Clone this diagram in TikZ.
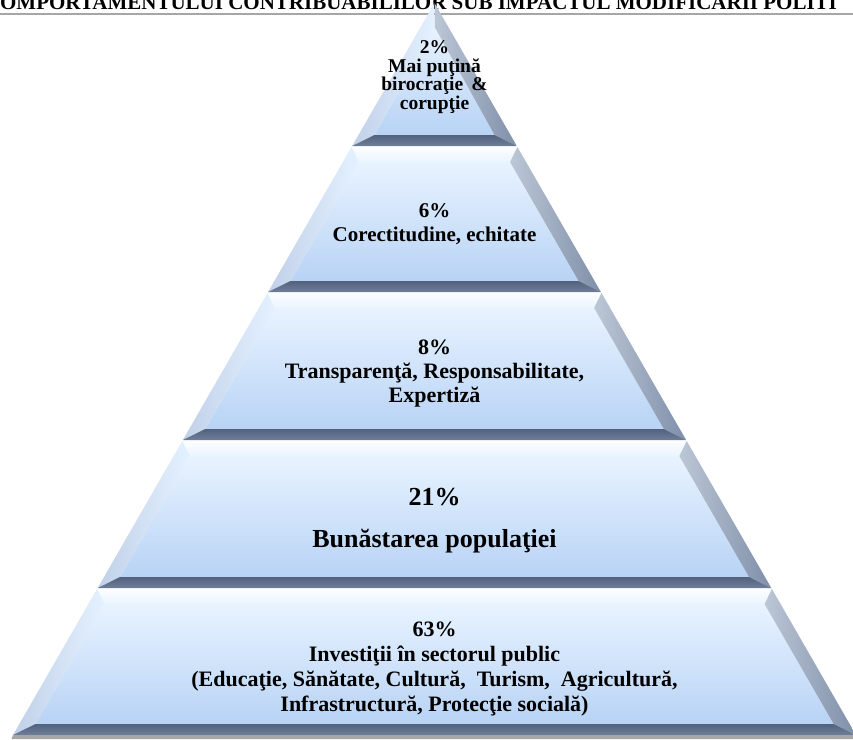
\documentclass[tikz,border=0pt]{standalone}
\usepackage{fontspec}
\setmainfont{Liberation Serif}
\definecolor{faceTop}{HTML}{E8F3FF}
\definecolor{faceBot}{HTML}{B8D3F5}
\definecolor{topBevA}{HTML}{FDFEFF}
\definecolor{topBevB}{HTML}{EAF4FF}
\definecolor{leftBevOut}{HTML}{C0D0E8}
\definecolor{leftBevIn}{HTML}{E4F1FF}
\definecolor{rightBevIn}{HTML}{BCC7D6}
\definecolor{rightBevOut}{HTML}{7F8FA9}
\definecolor{botBevTop}{HTML}{52617C}
\definecolor{botBevBot}{HTML}{6F7F9B}
\definecolor{ruleGray}{HTML}{A6A6A6}
\begin{document}
\begin{tikzpicture}[x=1pt,y=-1pt,
  tiertext/.style={align=center,inner sep=0pt,text=black},
  rule/.style={draw=ruleGray,line width=2pt}]
\useasboundingbox (0,0) rectangle (853,739);
\clip (0,0) rectangle (853,739);
\fill[white] (0,0) rectangle (853,739);

% heading, cut by the page edge
\node[anchor=base west,inner sep=0pt,font=\bfseries\fontsize{21}{21}\selectfont] (title) at (-15.2,9)
  {COMPORTAMENTULUI CONTRIBUABILILOR SUB IMPACTUL MODIFICĂRII POLITI};
\draw[rule] (0,14) -- (853,14);

% pyramid geometry
\def\cx{434.5}   % axis
\def\slp{0.5758} % half-width per unit of height
\def\apex{3}
\def\tbev{15}    % top bevel
\def\bbev{11}    % bottom bevel
\def\sbev{16}    % side bevel (horizontal)

\foreach \yt/\yb in {3/146, 147/292, 293/440, 441/588, 589/735}{
  \pgfmathsetmacro\ot{\slp*(\yt-\apex)}
  \pgfmathsetmacro\ob{\slp*(\yb-\apex)}
  \pgfmathsetmacro\yit{max(\yt+\tbev, \apex+\sbev/\slp-4)}
  \pgfmathsetmacro\yib{\yb-\bbev}
  \pgfmathsetmacro\iwt{max(\slp*(\yit-\apex)-\sbev,0)}
  \pgfmathsetmacro\iwb{\slp*(\yib-\apex)-\sbev}
  % face
  \shade[top color=faceTop,bottom color=faceBot]
    (\cx-\iwt,\yit) -- (\cx+\iwt,\yit) -- (\cx+\iwb,\yib) -- (\cx-\iwb,\yib) -- cycle;
  % top bevel
  \shade[top color=topBevA,bottom color=topBevB]
    (\cx-\ot,\yt) -- (\cx+\ot,\yt) -- (\cx+\iwt,\yit) -- (\cx-\iwt,\yit) -- cycle;
  % left bevel
  \shade[left color=leftBevOut,right color=leftBevIn]
    (\cx-\ot,\yt) -- (\cx-\iwt,\yit) -- (\cx-\iwb,\yib) -- (\cx-\ob,\yb) -- cycle;
  % right bevel
  \shade[left color=rightBevIn,right color=rightBevOut]
    (\cx+\ot,\yt) -- (\cx+\iwt,\yit) -- (\cx+\iwb,\yib) -- (\cx+\ob,\yb) -- cycle;
  % bottom bevel
  \shade[top color=botBevTop,bottom color=botBevBot]
    (\cx-\iwb,\yib) -- (\cx+\iwb,\yib) -- (\cx+\ob,\yb) -- (\cx-\ob,\yb) -- cycle;
}
% shadow under the base
\fill[gray!70] (\cx-421.5,735) -- (\cx+421.5,735) -- (\cx+423,739) -- (\cx-423,739) -- cycle;

% tier labels
\node[tiertext,font=\bfseries\fontsize{19.5}{18.5}\selectfont] (t1) at (\cx,77)
  {2\%\\Mai puţină\\birocraţie \,\&\\corupţie};
\node[tiertext,font=\bfseries\fontsize{21}{24}\selectfont] (t2) at (\cx,224)
  {6\%\\Corectitudine, echitate};
\node[tiertext,font=\bfseries\fontsize{22}{24}\selectfont] (t3) at (\cx,374)
  {8\%\\Transparenţă, Responsabilitate,\\Expertiză};
\node[tiertext,font=\bfseries\fontsize{26}{26}\selectfont] (t4) at (\cx,521)
  {21\%\\[16pt]Bunăstarea populaţiei};
\node[tiertext,font=\bfseries\fontsize{22}{25}\selectfont] (t5) at (\cx,669)
  {63\%\\Investiţii în sectorul public\\(Educaţie, Sănătate, Cultură, \ Turism, \ Agricultură,\\Infrastructură, Protecţie socială)};
\end{tikzpicture}
\end{document}
